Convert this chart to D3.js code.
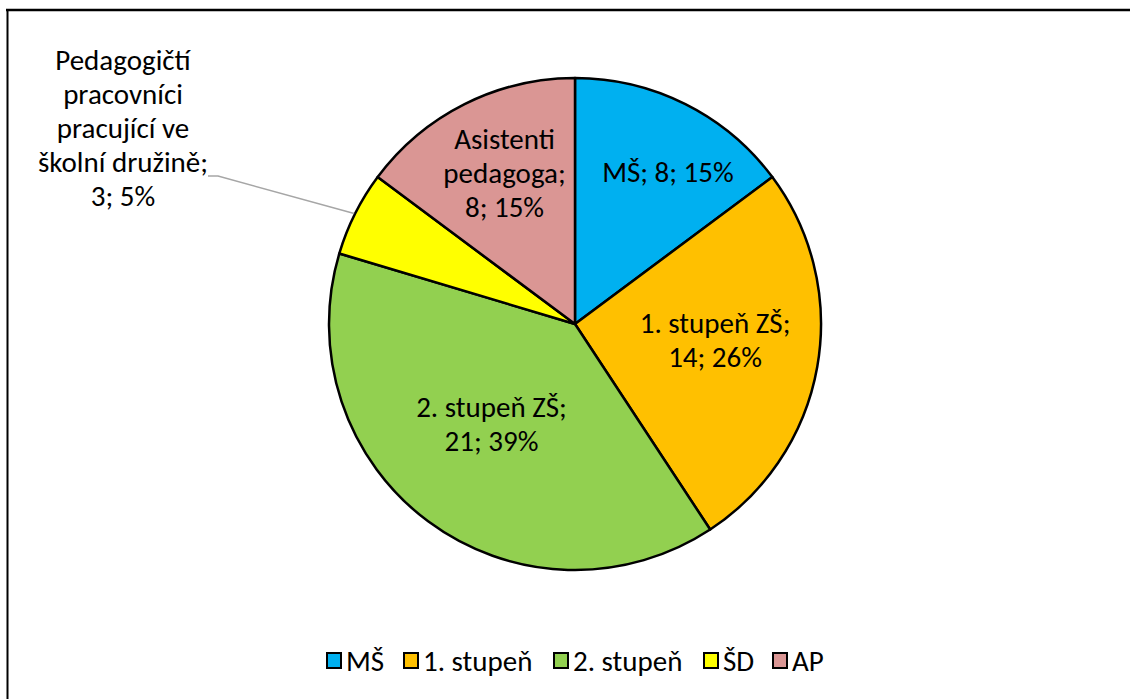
<!DOCTYPE html>
<html>
<head>
<meta charset="utf-8">
<script src="https://cdn.jsdelivr.net/npm/d3@7"></script>
<style>
    body { margin: 0; background: #fff; }
    svg { display: block; }
    text { font-family: Carlito, Calibri, Lato, "Open Sans", sans-serif; fill: #000; }
</style>
</head>
<body>
<div id="chart"></div>
<script>
// data
var categories = ["MŠ", "1. stupeň", "2. stupeň", "ŠD", "AP"];
var values = [8, 14, 21, 3, 8];
var colors = ["#00b0f0", "#ffc000", "#92d050", "#ffff00", "#da9694"];

// data labels, split into lines as in the picture
var labelLines = [
    ["MŠ; 8; 15%"],
    ["1. stupeň ZŠ;", "14; 26%"],
    ["2. stupeň ZŠ;", "21; 39%"],
    ["Pedagogičtí", "pracovníci", "pracující ve", "školní družině;", "3; 5%"],
    ["Asistenti", "pedagoga;", "8; 15%"]
];

var width = 1130;
var height = 699;
var cx = 575, cy = 324, radius = 246;

var svg = d3.select("#chart").append("svg")
    .attr("width", width)
    .attr("height", height);

// frame
svg.append("line").attr("x1", 6).attr("x2", width).attr("y1", 10).attr("y2", 10)
    .attr("stroke", "#000").attr("stroke-width", 2.5);
svg.append("line").attr("x1", 7.5).attr("x2", 7.5).attr("y1", 9).attr("y2", height)
    .attr("stroke", "#000").attr("stroke-width", 2);

var data = categories.map(function (c, i) {
    return { cat: c, value: values[i], color: colors[i], lines: labelLines[i] };
});

var pie = d3.pie().value(function (d) { return d.value; }).sort(null);
var arc = d3.arc().innerRadius(0).outerRadius(radius);
var arcs = pie(data);

var g = svg.append("g").attr("transform", "translate(" + cx + "," + cy + ")");

g.selectAll("path")
    .data(arcs)
    .enter()
    .append("path")
    .attr("d", arc)
    .attr("fill", function (d) { return d.data.color; })
    .attr("stroke", "#000")
    .attr("stroke-width", 2.5)
    .attr("stroke-linejoin", "round");

// label placement: radius and angle nudge (deg) per slice, null = outside
var labelR = [178, 141, 130, null, 167];
var labelDA = [4.8, -3.5, 3.3, 0, 1.7];
var lineH = 34;

arcs.forEach(function (d, i) {
    var mid = (d.startAngle + d.endAngle) / 2;
    var x, y;
    if (labelR[i] !== null) {
        var a = mid + labelDA[i] * Math.PI / 180;
        x = labelR[i] * Math.sin(a);
        y = -labelR[i] * Math.cos(a);
    } else {
        // outside label with leader line
        var px = radius * Math.sin(mid), py = -radius * Math.cos(mid);
        x = 123 - cx;
        y = 128 - cy;
        g.append("polyline")
            .attr("points", [[px - 1, py], [218 - cx, 176 - cy], [208 - cx, 176 - cy]].join(" "))
            .attr("fill", "none")
            .attr("stroke", "#a6a6a6")
            .attr("stroke-width", 1.5);
    }
    var lines = d.data.lines;
    var t = g.append("text")
        .attr("text-anchor", "middle")
        .attr("font-size", 29);
    lines.forEach(function (l, j) {
        t.append("tspan")
            .attr("x", x)
            .attr("y", y + (j - (lines.length - 1) / 2) * lineH)
            .attr("dy", "0.35em")
            .text(l);
    });
});

// legend
var legendX = [326, 403, 553, 703, 772];
var legend = svg.selectAll(".legend")
    .data(data)
    .enter()
    .append("g")
    .attr("class", "legend")
    .attr("transform", function (d, i) { return "translate(" + legendX[i] + ",660.5)"; });

legend.append("rect")
    .attr("x", 1).attr("y", -7.5)
    .attr("width", 14).attr("height", 15)
    .attr("fill", function (d) { return d.color; })
    .attr("stroke", "#000")
    .attr("stroke-width", 2);

legend.append("text")
    .attr("x", 20)
    .attr("y", 0)
    .attr("dy", "0.35em")
    .attr("font-size", 29)
    .text(function (d) { return d.cat; });
</script>
</body>
</html>
